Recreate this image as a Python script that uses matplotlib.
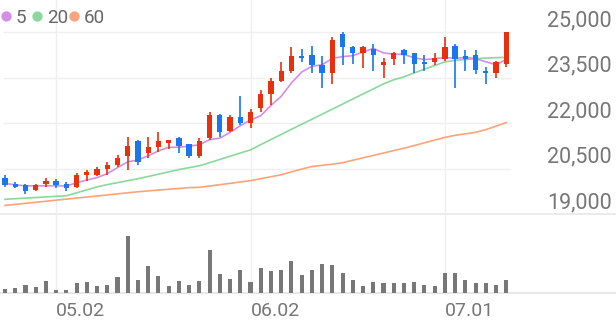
import matplotlib
matplotlib.use("Agg")
import matplotlib.pyplot as plt
from matplotlib import transforms

# daily candles (50 trading days)
opens = [20200, 20000, 19950, 19800, 20000, 20100, 20000, 19900, 20300, 20300,
         20500, 20600, 20900, 21400, 21000, 21200, 21350, 21500, 21300, 20900,
         21500, 22250, 21750, 22200, 22000, 22500, 22950, 23400, 23700, 24200,
         24250, 23900, 23650, 24950, 24500, 24300, 24450, 23900, 24100, 24400,
         24300, 24000, 24000, 24100, 24550, 24200, 24250, 23700, 23650, 23950]
highs = [20300, 20050, 20000, 20000, 20200, 20150, 20050, 20350, 20450, 20550,
         20700, 20950, 21550, 21450, 21550, 21700, 21450, 21550, 21300, 21500,
         22350, 22300, 22250, 22900, 22450, 23100, 23500, 24000, 24500, 24450,
         24550, 24200, 24850, 25000, 24550, 24550, 24600, 24150, 24350, 24450,
         24300, 24250, 24300, 24850, 24600, 24400, 24400, 23850, 24050, 25000]
lows = [19900, 19850, 19650, 19750, 19900, 19850, 19750, 19850, 20100, 20250,
        20300, 20550, 20450, 20600, 20850, 21050, 21150, 21000, 20850, 20850,
        21450, 21550, 21700, 21950, 21850, 22350, 22600, 23350, 23650, 24000,
        23650, 23150, 23300, 23900, 23950, 23800, 23700, 23500, 23900, 23950,
        23650, 23700, 23900, 24050, 23150, 23700, 23600, 23300, 23500, 23850]
closes = [19950, 19900, 19750, 19950, 20100, 19950, 19850, 20300, 20400, 20500,
          20600, 20850, 21250, 20700, 21200, 21400, 21450, 21250, 20900, 21400,
          22250, 21700, 22200, 22000, 22350, 22950, 23400, 23700, 24200, 24150,
          23900, 23650, 24750, 24500, 24300, 24500, 24250, 24000, 24300, 24250,
          23950, 23950, 24150, 24500, 24100, 24100, 23750, 23650, 24000, 25000]

# moving averages
ma5 = [20010, 19960, 19930, 19925, 19930, 19930, 19920, 20030, 20120, 20200,
       20330, 20530, 20720, 20780, 20920, 21080, 21200, 21200, 21240, 21280,
       21450, 21500, 21690, 21910, 22100, 22240, 22580, 22880, 23320, 23680,
       23870, 23920, 24130, 24190, 24220, 24340, 24460, 24310, 24270, 24260,
       24150, 24090, 24120, 24160, 24130, 24160, 24120, 24020, 23920, 24100]
ma20 = [19484, 19504, 19524, 19543, 19563, 19583, 19603, 19698, 19796, 19894,
        19969, 20033, 20099, 20164, 20237, 20313, 20389, 20465, 20528, 20589,
        20692, 20798, 20905, 21010, 21115, 21288, 21456, 21624, 21792, 21958,
        22124, 22292, 22458, 22624, 22792, 22958, 23124, 23292, 23426, 23520,
        23652, 23774, 23895, 24016, 24066, 24094, 24121, 24140, 24154, 24166]
ma60 = [19283, 19317, 19352, 19387, 19421, 19456, 19491, 19525, 19560, 19594,
        19629, 19664, 19699, 19733, 19762, 19789, 19815, 19842, 19869, 19880,
        19922, 19966, 20011, 20055, 20099, 20165, 20229, 20293, 20388, 20481,
        20565, 20604, 20642, 20691, 20772, 20852, 20931, 21011, 21091, 21168,
        21257, 21347, 21437, 21526, 21595, 21643, 21692, 21781, 21898, 22013]

# volume (thousand shares)
volume = [120, 170, 240, 200, 370, 100, 90, 320, 340, 230,
          250, 490, 1730, 400, 820, 510, 220, 360, 250, 360,
          1300, 570, 420, 700, 340, 760, 660, 690, 970, 560,
          700, 870, 850, 600, 400, 230, 340, 320, 320, 320,
          350, 250, 220, 620, 600, 400, 320, 300, 250, 400]

date_labels = ['05.02', '06.02', '07.01']
date_pos = [5, 24, 43]
price_ticks = [25000, 23500, 22000, 20500, 19000]
ma_names = ['5', '20', '60']

UP = '#e8300e'
DOWN = '#1877ee'
MA_COLORS = ['#d48de8', '#8cd89a', '#fca37c']
GRID = '#efefef'
TXT = '#767676'

plt.rcParams['font.family'] = ['Roboto', 'DejaVu Sans']

W, H = 616, 321
fig = plt.figure(figsize=(W / 100, H / 100), dpi=100)
ax = fig.add_axes([0, 1 - 214 / H, 1, 214 / H])
axv = fig.add_axes([0, 1 - 293.3 / H, 1, (293.3 - 214) / H])

step = 10.23
xlim = (-5 / step, (W - 5) / step)
for a in (ax, axv):
    a.set_xlim(*xlim)
    for s in a.spines.values():
        s.set_visible(False)
    a.tick_params(left=False, labelleft=False, bottom=False, labelbottom=False)
    a.patch.set_alpha(0)
    for p in date_pos:
        a.axvline(p, color=GRID, lw=1, zorder=0)

ax.set_ylim(19000, 19000 + 214 / 30.33 * 1000)
n = len(closes)
x = list(range(n))

# horizontal grid
for v in price_ticks[:-1]:
    ax.hlines(v, -0.2, n - 0.5, color=GRID, lw=1, zorder=0)
ax.axhline(19000, color='#e8e8e8', lw=1.2, zorder=0, clip_on=False)

# moving averages
for ma, c in zip([ma60, ma20, ma5], MA_COLORS[::-1]):
    ax.plot(x, ma, color=c, lw=1.2, zorder=2)

# candles
for i in range(n):
    up = closes[i] >= opens[i]
    col = UP if up else DOWN
    ax.vlines(i, lows[i], highs[i], color=col, lw=1.2, zorder=3)
    bot = min(opens[i], closes[i])
    hgt = max(abs(closes[i] - opens[i]), 40)
    ax.bar(i, hgt, bottom=bot, width=0.52, color=col, zorder=4)

# price labels above grid lines
ytrans = ax.get_yaxis_transform() + transforms.ScaledTranslation(0, 6 / 100, fig.dpi_scale_trans)
for v in price_ticks:
    ax.text(612 / W, v, f'{v:,}', transform=ytrans, ha='right', va='baseline',
            fontsize=15.5, color=TXT, clip_on=False)

# legend
for xd, xt, name, c in zip([6, 37, 74], [16, 47, 84], ma_names, MA_COLORS):
    ax.scatter([xd / W], [1 - 16 / 214], s=55, color=c, transform=ax.transAxes,
               clip_on=False, zorder=5, linewidths=0)
    ax.text(xt / W, 1 - 22.7 / 214, name, transform=ax.transAxes, ha='left',
            va='baseline', fontsize=13.5, color='#666666')

# volume
axv.set_ylim(0, 79.3 * 30)
axv.bar(x, volume, width=0.4, color='#777777', zorder=2)
axv.axhline(0, color='#e3e3e3', lw=1.2, clip_on=False, zorder=1)
axv.set_xticks(date_pos)
axv.set_xticklabels(date_labels, ha='left')
axv.tick_params(labelbottom=True, bottom=False, pad=2.5, labelsize=14, labelcolor=TXT)

fig.savefig('out.png', dpi=100)
